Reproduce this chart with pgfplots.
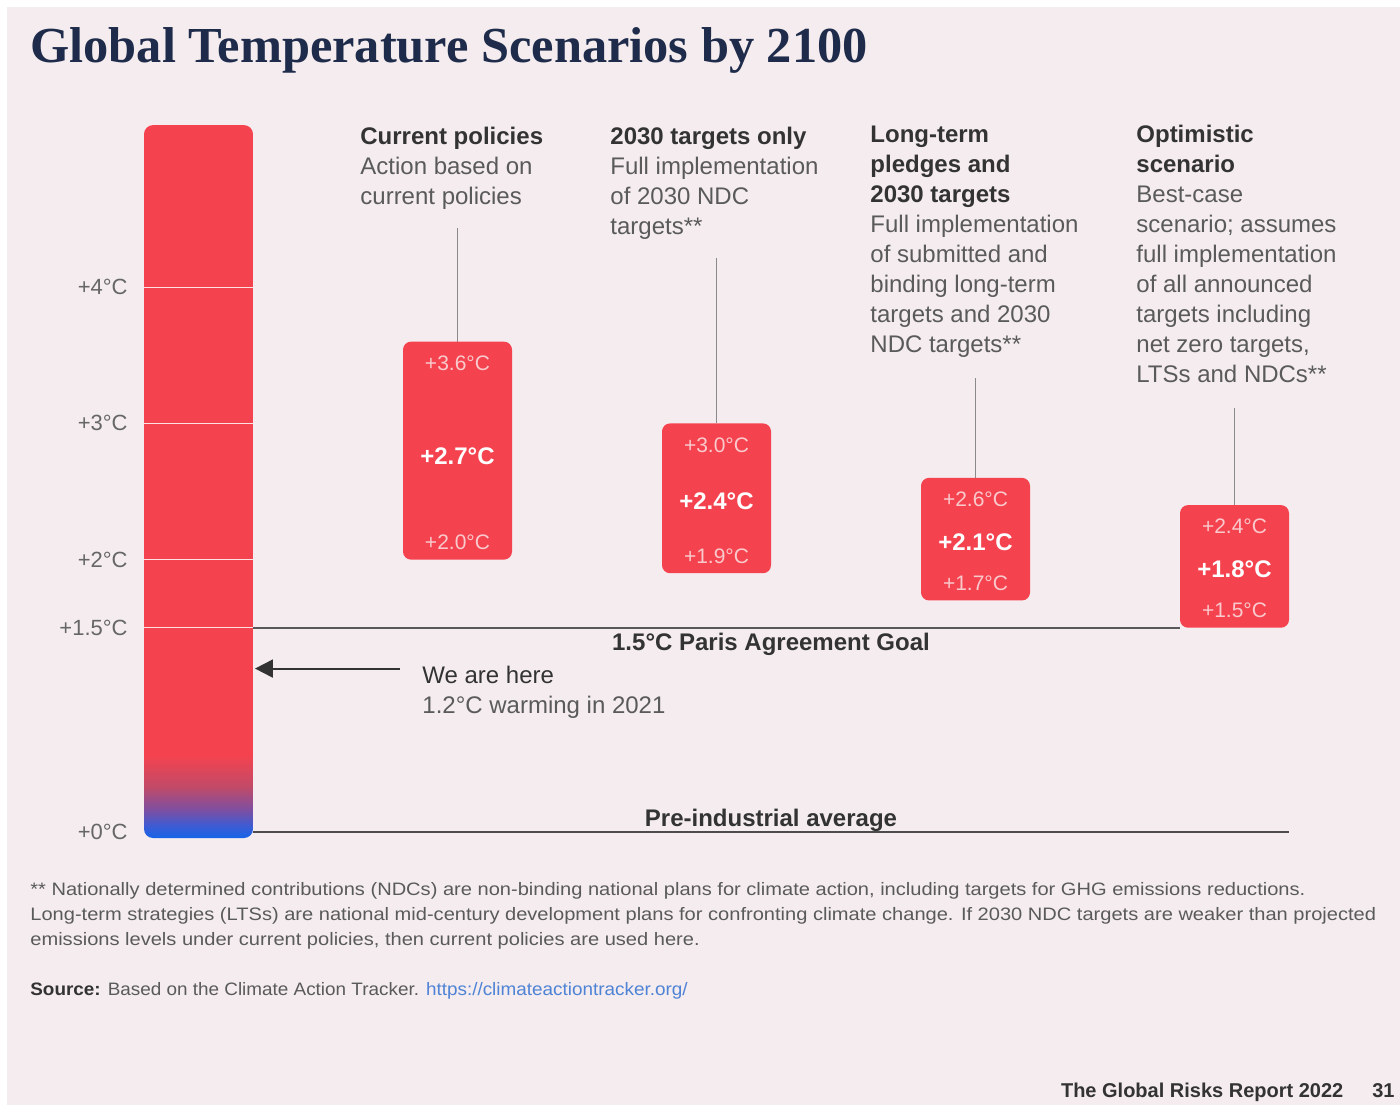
\documentclass[border=0pt]{standalone}
\usepackage{fontspec}
\setmainfont{Liberation Sans}
\newfontfamily\titlefont{Liberation Serif}
\usepackage{pgfplots}
\pgfplotsset{compat=1.18}
\usetikzlibrary{arrows.meta}
\definecolor{bgc}{HTML}{F4ECEE}
\definecolor{tred}{HTML}{F4434F}
\definecolor{tblue}{HTML}{1565E8}
\definecolor{tblue2}{HTML}{3A5CD6}
\definecolor{tpurple}{HTML}{7E4FA0}
\definecolor{tmauve}{HTML}{C24A68}
\definecolor{navy}{HTML}{1E2B4A}
\definecolor{hdr}{HTML}{333333}
\definecolor{desc}{HTML}{5A5A5A}
\definecolor{tick}{HTML}{666666}
\definecolor{conn}{HTML}{8A8A8A}
\definecolor{lnk}{HTML}{4F83D6}
\definecolor{lbl}{HTML}{F9C9CC}
\pgfdeclareverticalshading{thermo}{100bp}{color(0bp)=(tblue); color(25bp)=(tblue); color(25.8bp)=(tblue2); color(27bp)=(tpurple); color(28.6bp)=(tmauve); color(30.8bp)=(tred); color(100bp)=(tred)}
\newcommand{\hd}[1]{{\bfseries\color{hdr}#1}}
\begin{document}
\begin{tikzpicture}
\begin{axis}[
  scale only axis, width=700pt, height=552.5pt,
  xmin=-0.7664, xmax=4.6390, ymin=-2.0044, ymax=6.1087,
  axis background/.style={fill=bgc},
  axis line style={draw=none}, xtick=\empty,
  ytick={0,1.5,2,3,4},
  yticklabels={\mbox{+0°C},\mbox{+1.5°C},\mbox{+2°C},\mbox{+3°C},\mbox{+4°C}},
  major tick length=0pt,
  yticklabel style={anchor=east, inner sep=0pt, xshift=64pt, font=\fontsize{11}{13}\selectfont, text=tick},
  clip=false,
]
% white page edges
\fill[white] (axis cs:-0.7664,-2.0044) rectangle (axis cs:-0.7394,6.1087);
\fill[white] (axis cs:-0.7664,6.0573) rectangle (axis cs:4.6390,6.1087);
% thermometer bar
\addplot[draw=none, shade, shading=thermo, rounded corners=4.5pt] coordinates {(-0.2104,-0.044) (0.2104,-0.044) (0.2104,5.19) (-0.2104,5.19)} -- cycle;
% white gridlines in bar
\addplot[white, line width=0.6pt, opacity=0.85] coordinates {(-0.2104,1.5) (0.2104,1.5)};
\addplot[white, line width=0.6pt, opacity=0.85] coordinates {(-0.2104,2) (0.2104,2)};
\addplot[white, line width=0.6pt, opacity=0.85] coordinates {(-0.2104,3) (0.2104,3)};
\addplot[white, line width=0.6pt, opacity=0.85] coordinates {(-0.2104,4) (0.2104,4)};
% reference lines
\addplot[color=black!65, line width=1pt] coordinates {(0.2104,1.5) (3.7896,1.5)};
\addplot[color=black!70, line width=1pt] coordinates {(0.2104,0) (4.2104,0)};
% connectors
\addplot[conn, line width=0.75pt] coordinates {(1,4.435) (1,3.6)};
\addplot[conn, line width=0.75pt] coordinates {(2,4.214) (2,3.0)};
\addplot[conn, line width=0.75pt] coordinates {(3,3.333) (3,2.6)};
\addplot[conn, line width=0.75pt] coordinates {(4,3.113) (4,2.4)};
% scenario boxes (low to high)
\addplot[draw=none, fill=tred, rounded corners=4pt] coordinates {(0.7896,2.0) (1.2104,2.0) (1.2104,3.6) (0.7896,3.6)} -- cycle;
\addplot[draw=none, fill=tred, rounded corners=4pt] coordinates {(1.7896,1.9) (2.2104,1.9) (2.2104,3.0) (1.7896,3.0)} -- cycle;
\addplot[draw=none, fill=tred, rounded corners=4pt] coordinates {(2.7896,1.7) (3.2104,1.7) (3.2104,2.6) (2.7896,2.6)} -- cycle;
\addplot[draw=none, fill=tred, rounded corners=4pt] coordinates {(3.7896,1.5) (4.2104,1.5) (4.2104,2.4) (3.7896,2.4)} -- cycle;
% box labels
\begin{scope}[every node/.style={inner sep=0pt, font=\fontsize{10.5}{12}\selectfont, text=lbl}]
\node[anchor=north] at (axis cs:1,3.50) {+3.6°C};
\node[anchor=south] at (axis cs:1,2.07) {+2.0°C};
\node[anchor=north] at (axis cs:2,2.90) {+3.0°C};
\node[anchor=south] at (axis cs:2,1.97) {+1.9°C};
\node[anchor=north] at (axis cs:3,2.50) {+2.6°C};
\node[anchor=south] at (axis cs:3,1.77) {+1.7°C};
\node[anchor=north] at (axis cs:4,2.30) {+2.4°C};
\node[anchor=south] at (axis cs:4,1.57) {+1.5°C};
\end{scope}
\begin{scope}[every node/.style={inner sep=0pt, font=\bfseries\fontsize{12}{14}\selectfont, text=white}]
\node at (axis cs:1,2.76) {+2.7°C};
\node at (axis cs:2,2.43) {+2.4°C};
\node at (axis cs:3,2.13) {+2.1°C};
\node at (axis cs:4,1.93) {+1.8°C};
\end{scope}
% headers
\begin{scope}[every node/.style={inner sep=0pt, anchor=base west, font=\fontsize{12}{15}\selectfont, text=desc}]
\node at (axis cs:0.6236,5.051) {\begin{tabular}[t]{@{}l@{}}\hd{Current policies}\\ Action based on\\ current policies\end{tabular}};
\node at (axis cs:1.5888,5.051) {\begin{tabular}[t]{@{}l@{}}\hd{2030 targets only}\\ Full implementation\\ of 2030 NDC\\ targets**\end{tabular}};
\node at (axis cs:2.5927,5.059) {\begin{tabular}[t]{@{}l@{}}\hd{Long-term}\\ \hd{pledges and}\\ \hd{2030 targets}\\ Full implementation\\ of submitted and\\ binding long-term\\ targets and 2030\\ NDC targets**\end{tabular}};
\node at (axis cs:3.6197,5.059) {\begin{tabular}[t]{@{}l@{}}\hd{Optimistic}\\ \hd{scenario}\\ Best-case\\ scenario; assumes\\ full implementation\\ of all announced\\ targets including\\ net zero targets,\\ LTSs and NDCs**\end{tabular}};
\end{scope}
% we are here
\draw[black!80, line width=1pt, -{Triangle[length=9pt,width=9pt]}] (axis cs:0.778,1.2) -- (axis cs:0.2181,1.2);
\node[inner sep=0pt, anchor=base west, font=\fontsize{12}{15}\selectfont, text=desc] at (axis cs:0.863,1.094) {\begin{tabular}[t]{@{}l@{}}{\color{hdr}We are here}\\ 1.2°C warming in 2021\end{tabular}};
\node[inner sep=0pt, anchor=base, font=\bfseries\fontsize{12}{15}\selectfont, text=hdr] at (axis cs:2.2104,1.329) {1.5°C Paris Agreement Goal};
\node[inner sep=0pt, anchor=base, font=\bfseries\fontsize{12}{15}\selectfont, text=hdr] at (axis cs:2.2104,0.037) {Pre-industrial average};
% title
\node[inner sep=0pt, anchor=base west, font=\titlefont\bfseries\fontsize{25.2}{29}\selectfont, text=navy] at (axis cs:-0.6506,5.653) {Global Temperature Scenarios by 2100};
% footnote
\node[inner sep=0pt, anchor=base west, font=\fontsize{9}{12.5}\selectfont, text=desc] at (axis cs:-0.6506,-0.4626) {\scalebox{1.115}[1]{\begin{tabular}[t]{@{}l@{}}** Nationally determined contributions (NDCs) are non-binding national plans for climate action, including targets for GHG emissions reductions.\\ Long-term strategies (LTSs) are national mid-century development plans for confronting climate change. If 2030 NDC targets are weaker than projected\\ emissions levels under current policies, then current policies are used here.\end{tabular}}};
\node[inner sep=0pt, anchor=base west, font=\fontsize{9}{12.5}\selectfont, text=desc] at (axis cs:-0.6506,-1.204) {\scalebox{1.05}[1]{{\bfseries\color{hdr}Source:} Based on the Climate Action Tracker. {\color{lnk}https://climateactiontracker.org/}}};
\node[inner sep=0pt, anchor=base east, font=\bfseries\fontsize{10}{12}\selectfont, text=hdr] at (axis cs:4.6197,-1.9457) {The Global Risks Report 2022\hspace{14.5pt}31};
\end{axis}
\pgfresetboundingbox
\path[use as bounding box] (current axis.south west) rectangle (current axis.north east);
\end{tikzpicture}
\end{document}
